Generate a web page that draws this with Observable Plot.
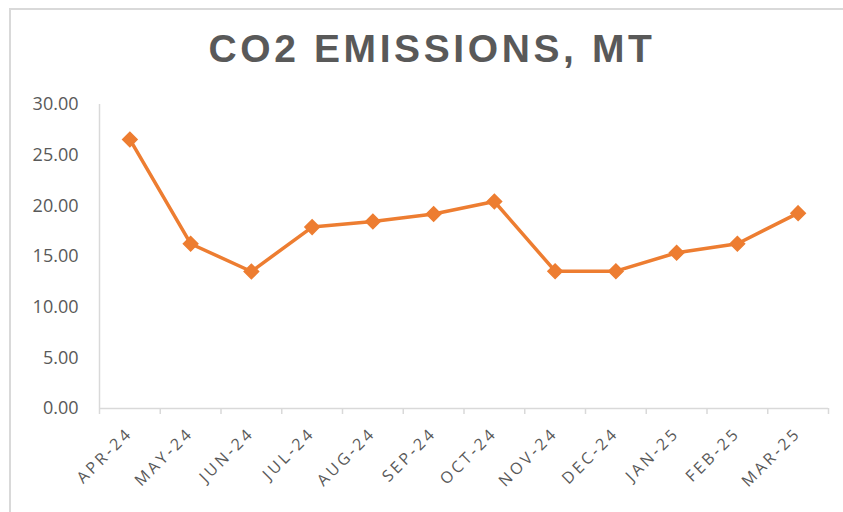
<!DOCTYPE html>
<html>
<head>
<meta charset="utf-8">
<script src="https://cdn.jsdelivr.net/npm/d3@7"></script>
<script src="https://cdn.jsdelivr.net/npm/@observablehq/plot@0.6"></script>
<style>
  html, body { margin: 0; padding: 0; background: #fff; }
  #wrap { position: relative; width: 843px; height: 512px; overflow: hidden; }
  #frame { position: absolute; left: 9px; top: 8px; width: 900px; height: 600px;
           border-left: 2px solid #d9d9d9; border-top: 2px solid #d9d9d9; }
  #title { position: absolute; left: 0; width: 864px; top: 29px; text-align: center;
           font-family: "Liberation Sans", Arial, sans-serif; font-weight: bold;
           font-size: 39px; letter-spacing: 3.6px; color: #595959; line-height: 1; }
  #chart { position: absolute; left: 0; top: 0; }
  #chart svg g[aria-label="x-axis tick label"] text { letter-spacing: 3px; }
</style>
</head>
<body>
<div id="wrap">
  <div id="frame"></div>
  <div id="title">CO2 EMISSIONS, MT</div>
  <div id="chart"></div>
</div>
<script>
const months = ["APR-24","MAY-24","JUN-24","JUL-24","AUG-24","SEP-24","OCT-24","NOV-24","DEC-24","JAN-25","FEB-25","MAR-25"];
const emissions = [26.55, 16.26, 13.52, 17.90, 18.46, 19.20, 20.43, 13.55, 13.55, 15.37, 16.26, 19.28];
const yTicks = [0, 5, 10, 15, 20, 25, 30];

const data = months.map((m, i) => ({i, month: m, value: emissions[i]}));
const boundaries = d3.range(months.length + 1).map(i => i - 0.5);

const plot = Plot.plot({
  width: 843,
  height: 512,
  marginLeft: 99,
  marginRight: 15,
  marginTop: 104,
  marginBottom: 104,
  style: {background: "transparent", overflow: "visible"},
  x: {type: "linear", domain: [-0.5, months.length - 0.5]},
  y: {type: "linear", domain: [0, 30]},
  marks: [
    Plot.ruleY([0], {stroke: "#d9d9d9", strokeWidth: 1.5}),
    Plot.ruleX([-0.5], {stroke: "#d9d9d9", strokeWidth: 1.5}),
    Plot.ruleX(boundaries, {x: d => d, y1: 0, y2: 0, stroke: "#d9d9d9", strokeWidth: 1.5, insetBottom: -6}),
    Plot.axisY({
      ticks: yTicks, tickSize: 0, tickPadding: 21, tickFormat: d => d.toFixed(2),
      fontSize: 18, fill: "#595959", fontFamily: "Open Sans", label: null
    }),
    Plot.axisX({
      ticks: d3.range(months.length), tickSize: 0, tickPadding: 22, tickRotate: -45, tickFormat: i => months[i],
      fontSize: 16, fill: "#595959", fontFamily: "Open Sans", label: null
    }),
    Plot.line(data, {x: "i", y: "value", stroke: "#ED7D31", strokeWidth: 3.5}),
    Plot.dot(data, {x: "i", y: "value", symbol: "diamond2", r: 6.5, fill: "#ED7D31", stroke: "#ED7D31"})
  ]
});
document.getElementById("chart").appendChild(plot);
</script>
</body>
</html>
